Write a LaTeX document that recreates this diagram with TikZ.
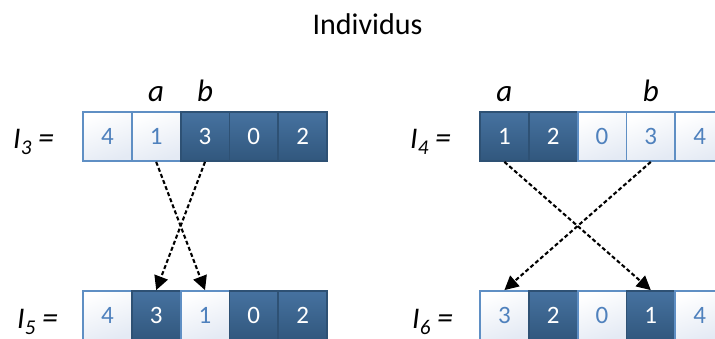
\documentclass[tikz,border=0pt]{standalone}
\usepackage{fontspec}
\setmainfont{Carlito}
\usetikzlibrary{arrows.meta}
\definecolor{litebd}{HTML}{5F8FC4}
\definecolor{litetx}{HTML}{4F81BD}
\definecolor{litebot}{HTML}{E4EAF4}
\definecolor{darktop}{HTML}{4672A0}
\definecolor{darkbot}{HTML}{31577D}
\definecolor{darkbd}{HTML}{2E5174}
\tikzset{
  cell/.style={minimum width=48.8pt,minimum height=49pt,inner sep=0pt,line width=1.8pt,
    font=\fontsize{25}{26}\selectfont},
  lite/.style={cell,draw=litebd,top color=white,bottom color=litebot,shading angle=20,text=litetx},
  dark/.style={cell,draw=darkbd,top color=darktop,bottom color=darkbot,text=white},
  lbl/.style={anchor=base west,inner sep=0pt,font=\fontsize{30}{32}\selectfont\itshape},
  ab/.style={anchor=base,inner sep=0pt,font=\fontsize{31}{32}\selectfont\itshape},
  swap/.style={dash pattern=on 4pt off 2.5pt,line width=2.1pt,-{Triangle[length=14pt,width=14pt]}}
}
\newcommand{\ilab}[1]{I\raisebox{-6pt}{\fontsize{21}{22}\selectfont #1} {\fontsize{32}{32}\selectfont =}}
\begin{document}
\begin{tikzpicture}[x=1pt,y=-1pt]
\useasboundingbox (0,0) rectangle (715,338);
\clip (0,0) rectangle (715,338);
\node[anchor=base,inner sep=0pt,font=\fontsize{30}{32}\selectfont] (title) at (367.5,34) {Individus};
% left top I3
\node[lbl] (L3) at (13,148) {\ilab{3}};
\node[lite] (t1) at (107.4,136.5) {4};
\node[lite] (t2) at (156.2,136.5) {1};
\node[dark] (t3) at (205,136.5) {3};
\node[dark] (t4) at (253.8,136.5) {0};
\node[dark] (t5) at (302.6,136.5) {2};
\node[ab] (a1) at (156.2,101) {a};
\node[ab] (b1) at (205,101) {b};
% left bottom I5
\node[lbl] (L5) at (17,328) {\ilab{5}};
\node[lite] (u1) at (107.4,315.5) {4};
\node[dark] (u2) at (156.2,315.5) {3};
\node[lite] (u3) at (205,315.5) {1};
\node[dark] (u4) at (253.8,315.5) {0};
\node[dark] (u5) at (302.6,315.5) {2};
% right top I4
\node[lbl] (L4) at (410,148) {\ilab{4}};
\node[dark] (r1) at (504.4,136.5) {1};
\node[dark] (r2) at (553.2,136.5) {2};
\node[lite] (r3) at (602,136.5) {0};
\node[lite] (r4) at (650.8,136.5) {3};
\node[lite] (r5) at (699.6,136.5) {4};
\node[ab] (a2) at (504.4,101) {a};
\node[ab] (b2) at (650.8,101) {b};
% right bottom I6
\node[lbl] (L6) at (412,328) {\ilab{6}};
\node[lite] (s1) at (504.4,315.5) {3};
\node[dark] (s2) at (553.2,315.5) {2};
\node[lite] (s3) at (602,315.5) {0};
\node[dark] (s4) at (650.8,315.5) {1};
\node[lite] (s5) at (699.6,315.5) {4};
% arrows
\draw[swap] (t2.south) -- (u3.north);
\draw[swap] (t3.south) -- (u2.north);
\draw[swap] (r1.south) -- (s4.north);
\draw[swap] (r4.south) -- (s1.north);
\end{tikzpicture}
\end{document}
